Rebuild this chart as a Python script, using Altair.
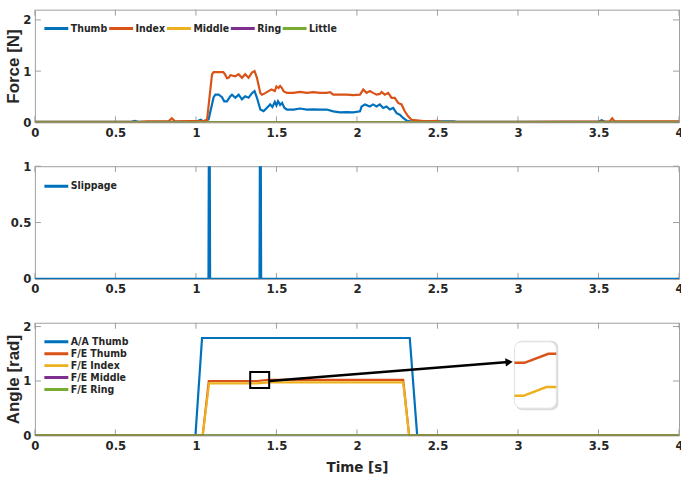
import altair as alt
import pandas as pd

FONT_N = "DejaVu Sans Condensed, Liberation Sans, Arial"
FONT = "Liberation Sans, Arial"
GREY = "#a0a0a0"
TXT = "#262626"
W = 646
H = 113

x_ticks = [0, 0.5, 1, 1.5, 2, 2.5, 3, 3.5, 4]

# ---------------- Panel 1: Force ----------------
force_names = ["Thumb", "Index", "Middle", "Ring", "Little"]
force_colors = ["#0072BD", "#D95319", "#EDB120", "#7E2F8E", "#77AC30"]
force_ticks = [0, 1, 2]

thumb_t = [0, 0.6, 0.62, 0.64, 1.0, 1.03, 1.05, 1.079, 1.11, 1.121, 1.141, 1.162, 1.176,
           1.193, 1.214, 1.224, 1.245, 1.265, 1.286, 1.306, 1.327, 1.348, 1.364, 1.379,
           1.40, 1.42, 1.44, 1.461, 1.475, 1.49, 1.50, 1.51, 1.523, 1.535, 1.55, 1.565,
           1.606, 1.647, 1.689, 1.73, 1.771, 1.812, 1.853, 1.895, 1.936, 1.977, 2.019,
           2.029, 2.05, 2.08, 2.10, 2.122, 2.142, 2.163, 2.184, 2.204, 2.225, 2.246,
           2.266, 2.287, 2.308, 2.328, 2.6, 2.62, 3.5, 3.52, 3.54, 4.0]
thumb_f = [0.01, 0.01, 0.03, 0.01, 0.01, 0.05, 0.01, 0.06, 0.49, 0.54, 0.54, 0.49, 0.41,
           0.41, 0.51, 0.54, 0.48, 0.54, 0.45, 0.51, 0.48, 0.57, 0.61, 0.48,
           0.25, 0.22, 0.28, 0.35, 0.30, 0.40, 0.33, 0.41, 0.34, 0.38, 0.28, 0.25,
           0.25, 0.27, 0.25, 0.255, 0.25, 0.25, 0.215, 0.196, 0.20, 0.196, 0.216,
           0.31, 0.35, 0.31, 0.35, 0.31, 0.35, 0.28, 0.31, 0.25, 0.28, 0.18,
           0.15, 0.085, 0.035, 0.02, 0.02, 0.01, 0.01, 0.04, 0.01, 0.01]

index_t = [0, 0.65, 0.7, 0.83, 0.85, 0.87, 1.05, 1.069, 1.10, 1.11, 1.17, 1.18, 1.193,
           1.203, 1.214, 1.245, 1.265, 1.286, 1.306, 1.327, 1.348, 1.364, 1.379,
           1.40, 1.41, 1.43, 1.45, 1.47, 1.49, 1.50, 1.513, 1.523, 1.534, 1.544, 1.565,
           1.606, 1.647, 1.689, 1.73, 1.771, 1.812, 1.833, 1.853, 1.895, 1.936, 1.977,
           2.019, 2.039, 2.06, 2.08, 2.10, 2.122, 2.142, 2.153, 2.173, 2.194, 2.215,
           2.235, 2.256, 2.277, 2.297, 2.318, 2.339, 2.37, 2.43, 2.5, 2.52, 3.0, 3.57,
           3.585, 3.6, 4.0]
index_f = [0.01, 0.01, 0.02, 0.02, 0.08, 0.02, 0.03, 0.05, 0.935, 0.98, 0.98, 0.94, 0.86,
           0.87, 0.92, 0.90, 0.94, 0.87, 0.94, 0.87, 0.97, 1.0, 0.87,
           0.57, 0.54, 0.57, 0.61, 0.64, 0.61, 0.70, 0.67, 0.71, 0.67, 0.61, 0.575,
           0.575, 0.594, 0.575, 0.59, 0.575, 0.575, 0.59, 0.54, 0.54, 0.54, 0.53,
           0.54, 0.64, 0.575, 0.61, 0.575, 0.54, 0.555, 0.594, 0.54, 0.575, 0.476,
           0.476, 0.38, 0.35, 0.216, 0.118, 0.05, 0.04, 0.02, 0.03, 0.01, 0.01, 0.02,
           0.08, 0.02, 0.02]

flat_t = [0, 4]
middle_f = [0, 0]
ring_f = [0, 0]
little_f = [0, 0]

# ---------------- Panel 2: Slippage ----------------
slip_names = ["Slippage"]
slip_colors = ["#0072BD"]
slip_ticks = [0, 0.5, 1]
slip_t = [0, 1.078, 1.08, 1.086, 1.088, 1.395, 1.397, 1.403, 1.405, 4]
slip_v = [0, 0, 1, 1, 0, 0, 1, 1, 0, 0]

# ---------------- Panel 3: Angle ----------------
angle_names = ["A/A Thumb", "F/E Thumb", "F/E Index", "F/E Middle", "F/E Ring"]
angle_colors = ["#0072BD", "#D95319", "#EDB120", "#7E2F8E", "#77AC30"]
angle_ticks = [0, 1, 2]
aa_thumb_t = [0, 0.997, 1.038, 2.328, 2.374, 4]
aa_thumb_v = [0, 0, 1.79, 1.79, 0, 0]
fe_thumb_t = [0, 1.042, 1.08, 1.38, 1.45, 2.287, 2.324, 4]
fe_thumb_v = [0, 0, 1.0, 1.0, 1.02, 1.02, 0, 0]
fe_index_t = [0, 1.042, 1.082, 1.38, 1.45, 2.287, 2.324, 4]
fe_index_v = [0, 0, 0.955, 0.955, 0.975, 0.975, 0, 0]
fe_middle_v = [0, 0]
fe_ring_v = [0, 0]

# annotation (zoom box, arrow, inset) in data units
zoom_t = [1.337, 1.455]
zoom_v = [0.87, 1.167]
arrow_t = [1.455, 2.94]
arrow_v = [1.0, 1.347]
arrow_head = [2.945, 1.347]
inset_t = [2.978, 3.238]
inset_v = [0.50, 1.72]
inset_or_t = [2.978, 3.04, 3.189, 3.238]
inset_or_v = [1.333, 1.333, 1.50, 1.50]
inset_ye_t = [2.978, 3.034, 3.176, 3.238]
inset_ye_v = [0.728, 0.728, 0.889, 0.889]


def series_df(names, ts, vs):
    rows = []
    for k, (n, t, v) in enumerate(zip(names, ts, vs)):
        for a, b in zip(t, v):
            rows.append({"s": n, "k": k, "t": a, "v": b})
    return pd.DataFrame(rows)


def x_axis(title=None):
    kw = dict(values=x_ticks, format="~g", ticks=False, domain=False, grid=False,
              labelFont=FONT_N, labelFontSize=13, labelFontWeight="bold",
              labelColor=TXT, labelPadding=4, labelFlush=False)
    if title:
        return alt.Axis(title=title, titleFont=FONT_N, titleFontSize=15,
                        titleFontWeight="bold", titleColor=TXT, titlePadding=7, **kw)
    return alt.Axis(title=None, **kw)


def y_axis(vals, title=None):
    kw = dict(values=vals, format="~g", ticks=False, domain=False, grid=False,
              labelFont=FONT_N, labelFontSize=13, labelFontWeight="bold",
              labelColor=TXT, labelPadding=4)
    if title:
        return alt.Axis(title=title, titleFont=FONT, titleFontSize=17,
                        titleFontWeight="bold", titleColor=TXT, titleX=-12, **kw)
    return alt.Axis(title=None, **kw)


def panel(df, names, colors, ydom, yticks, ytitle, legend, xtitle=None, extra=None):
    xs = alt.Scale(domain=[0, 4], nice=False, zero=False)
    ys = alt.Scale(domain=ydom, nice=False, zero=False)
    xa = x_axis(xtitle)
    ya = y_axis(yticks, ytitle)
    lines = alt.Chart(df).mark_line(strokeWidth=2.2, clip=True).encode(
        x=alt.X("t:Q", scale=xs, axis=xa),
        y=alt.Y("v:Q", scale=ys, axis=ya),
        color=alt.Color("s:N", scale=alt.Scale(domain=names, range=colors), legend=legend),
        detail="k:O",
        order="t:Q",
    )
    xt = pd.DataFrame({"t": x_ticks})
    yt = pd.DataFrame({"v": yticks})
    tb = alt.Chart(xt).mark_rule(color=GREY, strokeWidth=1).encode(
        x=alt.X("t:Q", scale=xs, axis=xa), y=alt.value(H), y2=alt.value(H - 6))
    tt = alt.Chart(xt).mark_rule(color=GREY, strokeWidth=1).encode(
        x=alt.X("t:Q", scale=xs, axis=xa), y=alt.value(0), y2=alt.value(6))
    tl = alt.Chart(yt).mark_rule(color=GREY, strokeWidth=1).encode(
        y=alt.Y("v:Q", scale=ys, axis=ya), x=alt.value(0), x2=alt.value(6))
    tr = alt.Chart(yt).mark_rule(color=GREY, strokeWidth=1).encode(
        y=alt.Y("v:Q", scale=ys, axis=ya), x=alt.value(W), x2=alt.value(W - 6))
    layers = [tb, tt, tl, tr, lines]
    if extra:
        layers += extra(xs, ys, xa, ya)
    return alt.layer(*layers).properties(width=W, height=H)


def leg(direction, columns, ly):
    kw = dict(title=None, orient="none", legendX=8, legendY=ly, direction=direction,
              symbolType="stroke", symbolSize=576, symbolStrokeWidth=3,
              labelFont=FONT_N, labelFontSize=10.5, labelFontWeight="bold",
              labelColor=TXT, labelOffset=1, columnPadding=-6, rowPadding=0,
              clipHeight=12, padding=0, labelLimit=200)
    if columns:
        kw["columns"] = columns
    return alt.Legend(**kw)


def annotations(xs, ys, xa, ya):
    X = lambda f: alt.X(f, scale=xs, axis=xa)
    Y = lambda f: alt.Y(f, scale=ys, axis=ya)
    box = pd.DataFrame({"t": [zoom_t[0]], "t2": [zoom_t[1]], "v": [zoom_v[0]], "v2": [zoom_v[1]]})
    zb = alt.Chart(box).mark_rect(fill=None, stroke="black", strokeWidth=2).encode(
        x=X("t:Q"), x2="t2:Q", y=Y("v:Q"), y2="v2:Q")
    arr = pd.DataFrame({"t": arrow_t, "v": arrow_v})
    al = alt.Chart(arr).mark_line(color="black", strokeWidth=2.5).encode(x=X("t:Q"), y=Y("v:Q"))
    head = pd.DataFrame({"t": [arrow_head[0]], "v": [arrow_head[1]]})
    ah = alt.Chart(head).mark_point(shape="triangle-right", filled=True, color="black",
                                    size=70, opacity=1, angle=355.5).encode(x=X("t:Q"), y=Y("v:Q"))
    ib = pd.DataFrame({"t": [inset_t[0]], "t2": [inset_t[1]], "v": [inset_v[0]], "v2": [inset_v[1]]})
    sh = alt.Chart(ib).mark_rect(fill="#9a9a9a", opacity=0.35, cornerRadius=7,
                                 xOffset=1, yOffset=2, x2Offset=2, y2Offset=-1).encode(
        x=X("t:Q"), x2="t2:Q", y=Y("v:Q"), y2="v2:Q")
    wb = alt.Chart(ib).mark_rect(fill="white", stroke="#e2e2e2", strokeWidth=1, cornerRadius=7).encode(
        x=X("t:Q"), x2="t2:Q", y=Y("v:Q"), y2="v2:Q")
    io = alt.Chart(pd.DataFrame({"t": inset_or_t, "v": inset_or_v})).mark_line(
        color="#D95319", strokeWidth=2.5).encode(x=X("t:Q"), y=Y("v:Q"))
    iy = alt.Chart(pd.DataFrame({"t": inset_ye_t, "v": inset_ye_v})).mark_line(
        color="#EDB120", strokeWidth=2.5).encode(x=X("t:Q"), y=Y("v:Q"))
    return [zb, al, ah, sh, wb, io, iy]


df1 = series_df(force_names, [thumb_t, index_t, flat_t, flat_t, flat_t],
                [thumb_f, index_f, middle_f, ring_f, little_f])
df2 = series_df(slip_names, [slip_t], [slip_v])
df3 = series_df(angle_names, [aa_thumb_t, fe_thumb_t, fe_index_t, flat_t, flat_t],
                [aa_thumb_v, fe_thumb_v, fe_index_v, fe_middle_v, fe_ring_v])

p1 = panel(df1, force_names, force_colors, [0, 2.2], force_ticks, "Force [N]",
           leg("horizontal", 5, 13))
p2 = panel(df2, slip_names, slip_colors, [0, 1], slip_ticks, None,
           leg("vertical", None, 14))
p3 = panel(df3, angle_names, angle_colors, [0, 2.07], angle_ticks, "Angle [rad]",
           leg("vertical", None, 13), xtitle="Time [s]", extra=annotations)

chart = alt.vconcat(p1, p2, p3, spacing=44, bounds="flush").resolve_scale(
    color="independent", y="independent", x="independent"
).properties(
    padding={"left": 4, "top": 8, "right": -3, "bottom": 0},
    background="white",
).configure_view(stroke=GREY, strokeWidth=1)

chart.save("out.html", embed_options={"renderer": "svg", "actions": False})
